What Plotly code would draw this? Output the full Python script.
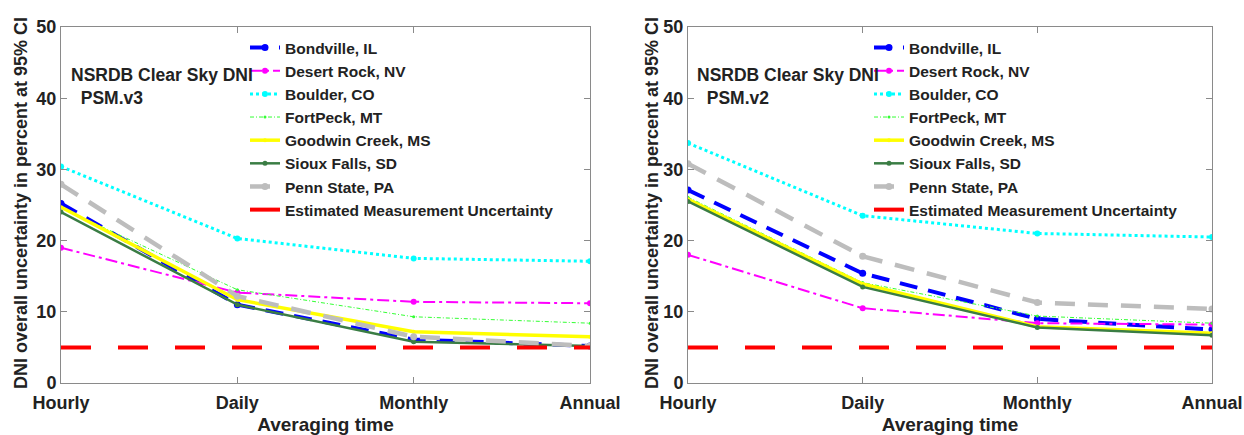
import plotly.graph_objects as go

categories = ["Hourly", "Daily", "Monthly", "Annual"]
x_pos = [1, 2, 3, 4]

series_names = ["Bondville, IL", "Desert Rock, NV", "Boulder, CO", "FortPeck, MT",
                "Goodwin Creek, MS", "Sioux Falls, SD", "Penn State, PA",
                "Estimated Measurement Uncertainty"]

# PSM.v3 (left panel)
v3_bondville = [25.2, 11.0, 6.1, 5.2]
v3_desert_rock = [19.0, 12.7, 11.4, 11.2]
v3_boulder = [30.4, 20.3, 17.5, 17.1]
v3_fortpeck = [24.6, 13.1, 9.3, 8.4]
v3_goodwin = [24.7, 11.7, 7.2, 6.5]
v3_sioux = [24.0, 11.0, 5.8, 5.2]
v3_pennstate = [27.9, 12.2, 6.5, 5.2]
v3_measure = [5, 5, 5, 5]

# PSM.v2 (right panel)
v2_bondville = [27.1, 15.4, 9.0, 7.5]
v2_desert_rock = [18.0, 10.5, 8.4, 8.2]
v2_boulder = [33.7, 23.5, 21.0, 20.5]
v2_fortpeck = [26.1, 14.1, 9.4, 8.4]
v2_goodwin = [25.8, 13.9, 7.9, 7.0]
v2_sioux = [25.5, 13.5, 7.8, 6.7]
v2_pennstate = [30.8, 17.8, 11.3, 10.4]
v2_measure = [5, 5, 5, 5]

yticks = [0, 10, 20, 30, 40, 50]
y_title = "DNI overall uncertainty in percent at 95% CI"
x_title = "Averaging time"
panel_labels = ["NSRDB Clear Sky DNI<br>  PSM.v3", "NSRDB Clear Sky DNI<br>  PSM.v2"]

styles = [
    dict(line=dict(color="#0000ff", width=4, dash="18px,11px"), marker=dict(size=7, color="#0000ff")),
    dict(line=dict(color="#ff00ff", width=2, dash="12px,4px,3px,4px"), marker=dict(size=6, color="#ff00ff")),
    dict(line=dict(color="#00ffff", width=3, dash="3px,3px"), marker=dict(size=6, color="#00ffff")),
    dict(line=dict(color="#33ff33", width=1, dash="4px,2px,1px,2px"), marker=dict(size=3, color="#33ff33")),
    dict(line=dict(color="#ffff00", width=3.5), marker=dict(size=4, color="#ffff00")),
    dict(line=dict(color="#3a7d44", width=2.5), marker=dict(size=5, color="#3a7d44")),
    dict(line=dict(color="#bdbdbd", width=4.5, dash="20px,13px"), marker=dict(size=7, color="#bdbdbd")),
    dict(line=dict(color="#ff0000", width=4, dash="30px,27px"), marker=dict(size=1, color="#ff0000")),
]

panels = [
    ([v3_bondville, v3_desert_rock, v3_boulder, v3_fortpeck, v3_goodwin, v3_sioux, v3_pennstate, v3_measure],
     "x", "y", "legend"),
    ([v2_bondville, v2_desert_rock, v2_boulder, v2_fortpeck, v2_goodwin, v2_sioux, v2_pennstate, v2_measure],
     "x2", "y2", "legend2"),
]

fig = go.Figure()
for data, xa, ya, lg in panels:
    for i, (name, vals) in enumerate(zip(series_names, data)):
        st = styles[i]
        mode = "lines" if i == 7 else "lines+markers"
        fig.add_trace(go.Scatter(x=x_pos, y=vals, name=name, mode=mode,
                                 line=st["line"], marker=st["marker"],
                                 xaxis=xa, yaxis=ya, legend=lg))

W, H = 1244, 435
def px(x):
    return x / W
def py(y):
    return 1 - y / H

font_bold = dict(family="Liberation Sans, Arial, sans-serif", size=18, color="#222222", weight="bold")

axis_common = dict(showline=True, linecolor="#8a8a8a", linewidth=1, mirror="ticks",
                   ticks="inside", ticklen=6, tickcolor="#8a8a8a", showgrid=False,
                   zeroline=False, tickfont=dict(font_bold, size=18), automargin=False)

xaxis_common = dict(axis_common, range=[1, 4], tickvals=x_pos, ticktext=categories,
                    ticklabelstandoff=3,
                    title=dict(text=x_title, font=dict(font_bold, size=19)))
yaxis_common = dict(axis_common, range=[0, 50], tickvals=yticks)

legend_common = dict(xanchor="left", yanchor="top", font=dict(font_bold, size=15.5),
                     bgcolor="rgba(0,0,0,0)", tracegroupgap=0, itemwidth=30)

ydom = [py(383), py(27)]
annotations = []
for lx, tx, label in [(21, 69, panel_labels[0]), (652, 695, panel_labels[1])]:
    annotations.append(dict(text=y_title, x=px(lx), y=py(203), xref="paper", yref="paper",
                            xanchor="center", yanchor="middle", textangle=-90, showarrow=False,
                            font=dict(font_bold, size=18)))
    annotations.append(dict(text=label, x=px(tx), y=py(63), xref="paper", yref="paper",
                            xanchor="left", yanchor="top", showarrow=False, align="left",
                            font=dict(font_bold, size=17.5)))

fig.update_layout(
    width=W, height=H,
    margin=dict(l=0, r=0, t=0, b=0, autoexpand=False),
    paper_bgcolor="white", plot_bgcolor="white",
    showlegend=True,
    xaxis=dict(xaxis_common, domain=[px(61), px(590)], anchor="y"),
    yaxis=dict(yaxis_common, domain=ydom, anchor="x"),
    xaxis2=dict(xaxis_common, domain=[px(688), px(1212)], anchor="y2"),
    yaxis2=dict(yaxis_common, domain=ydom, anchor="x2"),
    legend=dict(legend_common, x=px(245), y=py(31)),
    legend2=dict(legend_common, x=px(869), y=py(31)),
    annotations=annotations,
)

fig.write_html("out.html")
